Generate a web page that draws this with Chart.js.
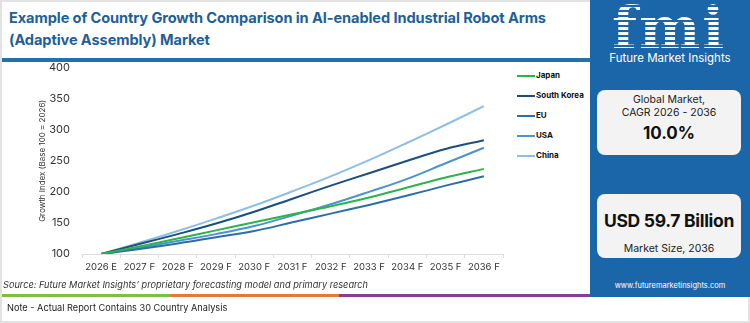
<!DOCTYPE html>
<html>
<head>
<meta charset="utf-8">
<script src="https://cdn.jsdelivr.net/npm/chart.js"></script>
<style>
  html,body{margin:0;padding:0;background:#fff;}
  body{width:750px;height:323px;position:relative;overflow:hidden;font-family:Inter,"Open Sans",sans-serif;}
  #frame{position:absolute;left:0;top:0;width:746px;height:319px;border:2px solid #e2e2e2;}
  #title{position:absolute;left:9px;top:7px;width:590px;color:#1f5f99;font-weight:700;font-size:14.6px;line-height:22px;letter-spacing:-0.1px;}
  #rule{position:absolute;left:2px;top:58px;width:588px;height:4px;background:#2470ac;}
  #chartWrap{position:absolute;left:0;top:49px;width:512px;height:231px;}
  #chartWrap canvas{display:block;}
  #legend{position:absolute;left:517px;top:70px;}
  .li{position:absolute;left:0;height:12px;white-space:nowrap;font-size:8px;font-weight:700;color:#111;}
  .li span.sw{display:inline-block;width:18px;height:2.5px;vertical-align:middle;margin-right:1px;}
  #panel{position:absolute;left:590px;top:0;width:160px;height:297px;background:#1b66a9;}
  #logo{position:absolute;left:22px;top:2px;width:114px;text-align:center;font-family:"DejaVu Serif",serif;font-weight:700;font-size:58px;line-height:52px;letter-spacing:2px;
        color:#fff;background:repeating-linear-gradient(#fff 0 3px,transparent 3px 5px);-webkit-background-clip:text;background-clip:text;-webkit-text-fill-color:transparent;}
  #fmiName{position:absolute;left:0;top:51px;width:160px;text-align:center;color:#fff;font-size:11.5px;}
  .box{position:absolute;left:7px;width:144px;background:#f3f3f3;border-radius:8px;text-align:center;color:#222;}
  #box1{top:90px;height:65px;}
  #box2{top:194px;height:64px;}
  #url{position:absolute;left:0;top:281px;width:160px;text-align:center;color:#fff;font-size:7.5px;}
  #source{position:absolute;left:3px;top:279px;font-style:italic;font-size:9.2px;color:#333;}
  #bar{position:absolute;left:2px;top:294px;height:3px;width:588px;background:linear-gradient(90deg,#7bbf44 0 168px,#e8773a 168px 337px,#8b3d93 337px 588px);}
  #note{position:absolute;left:7px;top:302px;font-size:9.2px;color:#222;}
</style>
</head>
<body>
<div id="frame"></div>
<div id="title">Example of Country Growth Comparison in AI-enabled Industrial Robot Arms<br>(Adaptive Assembly) Market</div>
<div id="rule"></div>
<div id="chartWrap"><canvas id="c" width="512" height="231"></canvas></div>
<div id="legend"></div>
<div id="panel">
  <div id="logo">fmi</div>
  <div id="fmiName">Future Market Insights</div>
  <div class="box" id="box1">
    <div style="position:absolute;top:3px;width:100%;font-size:10.5px;line-height:13px;">Global Market,<br>CAGR 2026 - 2036</div>
    <div style="position:absolute;top:33px;width:100%;font-size:17px;font-weight:700;color:#111;">10.0%</div>
  </div>
  <div class="box" id="box2">
    <div style="position:absolute;top:16px;width:100%;font-size:17.5px;font-weight:700;color:#111;letter-spacing:-0.3px;">USD 59.7 Billion</div>
    <div style="position:absolute;top:48px;width:100%;font-size:10.5px;">Market Size, 2036</div>
  </div>
  <div id="url">www.futuremarketinsights.com</div>
</div>
<div id="source">Source: Future Market Insights’ proprietary forecasting model and primary research</div>
<div id="bar"></div>
<div id="note">Note - Actual Report Contains 30 Country Analysis</div>

<script>
const years = ["2026 E","2027 F","2028 F","2029 F","2030 F","2031 F","2032 F","2033 F","2034 F","2035 F","2036 F"];
const japan      = [100, 112, 125, 138, 151, 164, 177, 191, 207, 223, 237];
const southKorea = [100, 116, 132, 149, 168, 189, 210, 230, 250, 269, 283];
const eu         = [100, 108, 117, 127, 137, 151, 165, 179, 194, 210, 225];
const usa        = [100, 110, 121, 132, 145, 162, 180, 200, 221, 246, 271];
const china      = [100, 118, 137, 157, 178, 201, 225, 251, 279, 308, 338];
const seriesNames = ["Japan","South Korea","EU","USA","China"];
const seriesColors = ["#2cb34a","#1b4f7e","#2d6ea8","#4b93cc","#8fbfe0"];
const yTicks = [100,150,200,250,300,350,400];

const seriesData = [japan, southKorea, eu, usa, china];
const datasets = seriesNames.map((n,i)=>({
  label:n, data:seriesData[i], borderColor:seriesColors[i], backgroundColor:seriesColors[i],
  borderWidth:2, pointRadius:0, tension:0.4, fill:false
}));

const lg = document.getElementById('legend');
seriesNames.forEach((n,i)=>{
  const d=document.createElement('div'); d.className='li'; d.style.top=(i*20)+'px';
  d.innerHTML='<span class="sw" style="background:'+seriesColors[i]+'"></span>'+n;
  lg.appendChild(d);
});

new Chart(document.getElementById('c'),{
  type:'line',
  data:{labels:years, datasets},
  options:{
    responsive:false, animation:false, maintainAspectRatio:false,
    layout:{padding:{top:7,right:9,left:0,bottom:0}},
    plugins:{legend:{display:false}, tooltip:{enabled:false}},
    scales:{
      x:{
        offset:true,
        grid:{display:true, drawOnChartArea:false, drawTicks:true, tickLength:4, offset:true, color:'#dcdcdc'},
        border:{display:true, color:'#dcdcdc'},
        ticks:{color:'#333', font:{family:'Inter', size:9.5}, padding:3, maxRotation:0, autoSkip:false},
        afterFit:s=>{s.height=26;}
      },
      y:{
        min:100, max:400,
        afterBuildTicks:s=>{s.ticks=yTicks.map(v=>({value:v}));},
        grid:{display:false, drawTicks:false},
        border:{display:false},
        ticks:{color:'#333', font:{family:'Inter', size:11}, padding:12},
        title:{display:true, text:'Growth Index (Base 100 = 2026)', color:'#333', font:{family:'Inter', size:8}, padding:{top:38,bottom:0}},
        afterFit:s=>{s.width=82;}
      }
    }
  }
});
</script>
</body>
</html>
